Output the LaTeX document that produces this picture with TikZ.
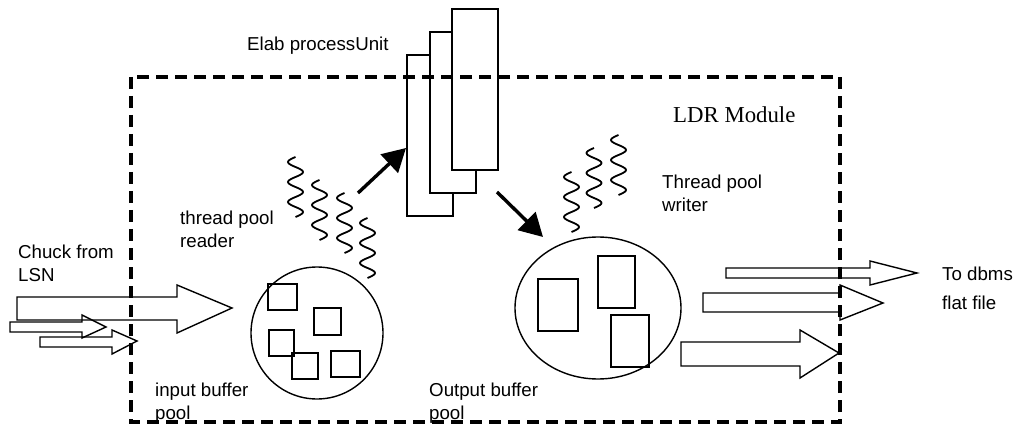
\documentclass[tikz,border=0pt]{standalone}
\usepackage{fontspec}
\setmainfont{Liberation Serif}
\setsansfont{Liberation Sans}
\usetikzlibrary{arrows.meta,shapes.geometric}
\begin{document}
\begin{tikzpicture}[x=1pt,y=-1pt,
  lbl/.style={font=\sffamily\fontsize{18.7}{22.5}\selectfont, align=left, inner sep=0, anchor=north west},
  proc/.style={draw, fill=white, line width=1.8, inner sep=0, anchor=north west},
  buf/.style={draw, line width=1.8},
  pool/.style={draw, line width=1.4, inner sep=0},
  flow/.style={draw, line width=1.4, line join=miter},
  bigarrow/.style={line width=3.4, -{Triangle[length=23pt,width=25pt]}},
  wig/.style={line width=1.8},
  module/.style={line width=3.5, dash pattern=on 12pt off 7pt}
]
\useasboundingbox (0,0) rectangle (1029,425);

% processing units
\node[proc, minimum width=46, minimum height=161] (p1) at (406,54) {};
\node[proc, minimum width=46, minimum height=161] (p2) at (429,31) {};
\node[proc, minimum width=46, minimum height=161] (p3) at (451,8) {};

% buffer pools
\node[pool, circle, minimum size=132] (inpool) at (317,333) {};
\node[pool, ellipse, minimum width=166, minimum height=142] (outpool) at (598,308) {};

% buffers in input pool
\draw[buf] (268,284) rectangle (297,310);
\draw[buf] (314,308) rectangle (341,335);
\draw[buf] (269,330) rectangle (294,356);
\draw[buf] (292,353) rectangle (318,379);
\draw[buf] (331,351) rectangle (360,377);

% buffers in output pool
\draw[buf] (538,279) rectangle (578,331);
\draw[buf] (598,256) rectangle (635,308);
\draw[buf] (611,315) rectangle (649,367);

% threads
\foreach \cx/\cy in {295.5/157, 319.5/180, 344.5/193, 367.5/218, 571.5/172, 594/148, 618.5/135}
  \draw[wig, shift={(\cx,\cy)}] plot[domain=0:60, samples=61, smooth] ({-7.5*sin(18*\x)}, \x);

% thick arrows
\coordinate (rd) at (358,193);
\coordinate (rdin) at (406,148);
\coordinate (wrout) at (497,192);
\coordinate (wr) at (543,237);
\draw[bigarrow] (rd) -- (rdin);
\draw[bigarrow] (wrout) -- (wr);

% input block arrows
\draw[flow] (17,297) -- (177,297) -- (177,285) -- (232,308) -- (177,333) -- (177,320) -- (17,320) -- cycle;
\draw[flow] (10,322) -- (82,322) -- (82,315) -- (106,327) -- (82,338) -- (82,332) -- (10,332) -- cycle;
\draw[flow] (40,337) -- (112,337) -- (112,330) -- (137,341) -- (112,354) -- (112,347) -- (40,347) -- cycle;

% output block arrows
\draw[flow] (726,268) -- (870,268) -- (870,261) -- (917,273) -- (870,285) -- (870,278) -- (726,278) -- cycle;
\draw[flow] (703,293) -- (840,293) -- (840,285) -- (883,303) -- (840,320) -- (840,312) -- (703,312) -- cycle;
\draw[flow] (681,342) -- (800,342) -- (800,330) -- (839,353) -- (800,378) -- (800,366) -- (681,366) -- cycle;

% module boundary
\draw[module] (131,77) rectangle (840,422);

% labels
\node[lbl] (elab) at (247,37) {Elab processUnit};
\node[lbl, font=\rmfamily\fontsize{22.8}{26}\selectfont] (ldr) at (673,106) {LDR Module};
\node[lbl] (chuck) at (18,245) {Chuck from\\LSN};
\node[lbl] (tpr) at (180,211) {thread pool\\reader};
\node[lbl] (ibp) at (155,383) {input buffer\\pool};
\node[lbl] (obp) at (429,383) {Output buffer\\pool};
\node[lbl, font=\sffamily\fontsize{18.7}{23}\selectfont] (tpw) at (662,175) {Thread pool\\writer};
\node[lbl, font=\sffamily\fontsize{18.7}{29}\selectfont] (dbms) at (942,267) {To dbms\\flat file};
\end{tikzpicture}
\end{document}
